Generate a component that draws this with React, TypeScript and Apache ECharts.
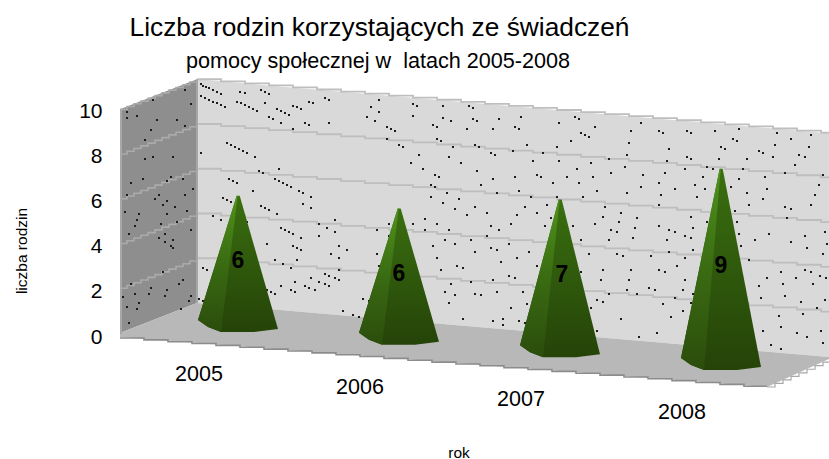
import React, { useEffect, useRef } from "react";
import * as echarts from "echarts";

const categories = ["2005", "2006", "2007", "2008"];
const familyCounts = [6, 6, 7, 9];
const yTicks = [0, 2, 4, 6, 8, 10];
const titleText = "Liczba rodzin korzystających ze świadczeń";
const subtitleText = "pomocy społecznej w  latach 2005-2008";
const yName = "liczba rodzin";
const xName = "rok";

// wall texture: [crop x, crop y, crop pairs at 3x]
const leftWallSpeckle: number[] = [254,60,158,89,272,101,80,125,110,137,80,143,170,149,230,149,254,167,152,179,134,209,134,267,158,261,218,261,92,338,128,326,212,320,200,332,248,326,278,356,80,374,176,374,164,386,254,374,200,392,188,404,224,410,260,422,74,427,116,433,200,433,110,451,104,468,182,462,230,457,86,492,272,480,194,492,176,504,218,510,194,516,212,528,218,534,188,605,248,629,236,641,92,641,152,653,200,659,104,671,146,671,194,677,272,677,68,682,266,694,116,700,80,712,110,718,242,718,86,760];
const backWallSpeckleA: number[] = [302,43,310,47,318,51,326,55,338,60,350,65,362,71,420,66,434,70,482,59,494,66,506,71,302,78,314,84,326,90,338,96,350,100,362,106,374,112,410,95,422,100,434,105,446,111,458,117,470,123,494,100,506,142,518,147,530,118,542,123,554,129,566,135,542,160,578,107,590,112,602,118,626,96,638,100,674,84,686,90,614,159,626,165,578,178,686,159,836,89,812,112,836,125,800,142,824,154,860,172,872,178,884,183,860,208,896,226,302,249,380,219,392,225,404,231,416,236,428,242,440,248,464,260,476,302,488,308,536,296,524,326,536,332,548,338,560,344,572,350,596,362,608,368,632,380,386,326,398,332,410,338,458,362,368,385,380,391,392,397,608,403,632,415,482,409,494,415,506,421,530,433,338,439,362,451,440,457,656,463,680,474,704,451,704,487,656,498,542,475,554,481,566,487,578,492,602,504,500,522,578,528,590,533,602,539,716,528,740,540,692,552,716,564,524,570,548,581,590,570,572,593,716,600,674,611,686,617,704,623,716,629,632,623,656,635,674,641,686,647,584,635,542,647,572,659,584,665,614,647,626,653,644,659,500,659,512,665,524,671,308,593,320,599,296,688,308,694,728,723,758,735,776,741,788,688,806,694,830,480,866,463,866,498,830,552,836,587];
const backWallSpeckleB: number[] = [53,56,65,62,143,62,221,62,233,68,53,92,143,98,167,109,233,103,245,109,311,103,113,121,125,127,215,133,293,133,125,163,137,169,11,181,23,187,173,187,239,181,251,187,287,204,299,210,71,210,161,216,47,234,197,234,83,252,245,258,119,270,131,276,293,282,107,299,119,305,257,299,155,323,305,323];
const backWallSpeckleC: number[] = [107,5,143,23,191,11,179,41,239,35,215,59,275,53,89,71,53,88,125,88,287,94,89,105,161,105,311,105,275,124,149,136,227,135,179,147,113,153,287,159,305,165,239,171,125,189,317,200,185,212,203,218,137,224,293,254,167,266,227,260,149,290,305,290,239,296,179,301,257,301,161,325,203,372,293,378,323,372];
const backWallSpeckleD: number[] = [62,82,224,82,236,88,176,100,44,112,56,118,284,112,242,130,254,136,266,142,212,154,80,166,170,172,38,184,128,190,98,214,176,214,272,218,230,236,44,260,110,254,122,260,200,260,278,260,158,278,236,278,56,302,290,302,92,320,170,320,248,320,74,350,140,344,110,368,50,374,152,384,32,403,134,409,218,409,242,451,26,463,86,487,266,492,50,504,110,528,242,546,26,557,44,563,68,605,80,641,32,653,272,653,56,693,8,705,74,699,290,723,422,100,392,124,476,124,488,130,560,124,572,130,644,124,716,118,830,130,872,148,932,136,386,160,506,178,662,172,674,178,698,148,710,154,824,166,926,172,776,184,788,190,380,196,326,208,560,202,572,208,500,212,656,208,740,208,818,200,896,196,914,202,374,230,332,248,554,236,620,230,638,238,728,236,884,224,428,254,494,248,608,260,716,266,794,260,854,248,968,254,476,278,422,290,584,284,524,296,614,296,692,290,956,284,800,296,380,308,482,314,590,320,740,308,944,314,788,326,476,344,746,344,932,344,314,350,362,368,854,350,872,356,704,362,308,380,410,385,572,380,860,385,356,397,284,403,620,397,710,397,404,415,476,409,578,415,332,421,350,427,506,421,524,427,716,433,806,433,974,427,914,439,398,445,326,451,500,451,554,439,572,445,764,451,872,457,722,468,920,474,980,463,506,487,578,480,350,492,368,498,452,498,554,504,746,510,968,492,530,527,308,540,392,540,476,540,494,546,914,540,932,546,842,546,800,563,888,563,960,557,978,563,302,569,386,569,554,569,848,581,938,581,776,587,446,593,464,599,380,599,548,600,326,611,410,611,578,611,524,623,782,623,854,617,290,629,308,635,488,641,572,640,902,635,974,629,950,653,548,663,908,671,836,677,512,682,362,688,842,711,788,723,890,729,962,723,470,729,416,741,920,741,968,759,812,765,842,777];

const FONT = '"Liberation Sans", Arial, sans-serif';

function stepped(a: number[], b: number[], step = 24): number[][] {
  const pts: number[][] = [];
  const slope = (b[1] - a[1]) / (b[0] - a[0]);
  const dir = b[0] >= a[0] ? 1 : -1;
  let x = a[0];
  while ((b[0] - x) * dir > 0) {
    const nx = (b[0] - x) * dir > step ? x + step * dir : b[0];
    const y = a[1] + slope * (x - a[0]);
    pts.push([x, y], [nx, y]);
    x = nx;
  }
  return pts;
}

function specks(list: number[], ox: number, oy: number) {
  const out: any[] = [];
  for (let i = 0; i < list.length; i += 2) {
    out.push({
      type: "rect",
      shape: { x: Math.round(list[i] / 3 + ox - 1), y: Math.round(list[i + 1] / 3 + oy - 1), width: 2, height: 2 },
      style: { fill: "#1c1c1c" },
      silent: true,
    });
  }
  return out;
}

function renderFrame(_: any, api: any) {
  const unit = api.size([0, 1])[1] * 0.99;
  const fl: number[] = [120, 333];
  const bl: number[] = [197, 303];
  const br: number[] = [829, 357];
  const up = (p: number[], v: number) => [p[0], p[1] - v * unit];
  const top = 10;
  const kids: any[] = [];
  kids.push({ type: "polygon", shape: { points: [up(bl, top), up(br, top), br, bl] }, style: { fill: "#d9d9d9" } });
  kids.push({ type: "polygon", shape: { points: [up(fl, top), up(bl, top), bl, fl] }, style: { fill: "#8e8e8e" } });
  kids.push({ type: "polygon", shape: { points: [fl, [120, 337], [767, 387], [829, 359], br, bl] }, style: { fill: "#b8b8b8" } });
  kids.push({ type: "polyline", shape: { points: stepped([120, 338], [767, 388], 24) }, style: { stroke: "#8c8c8c", lineWidth: 1.6, fill: "none" } });
  kids.push({ type: "polyline", shape: { points: stepped([767, 387], [829, 359.5], 8) }, style: { stroke: "#a8a8a8", lineWidth: 1.2, fill: "none" } });
  yTicks.forEach((v) => {
    if (v === 0) return;
    kids.push({ type: "polyline", shape: { points: stepped(up(fl, v), up(bl, v), 7) }, style: { stroke: "#ababab", lineWidth: 1.6, fill: "none" } });
    kids.push({ type: "polyline", shape: { points: stepped(up(bl, v), up(br, v), 24) }, style: { stroke: "#bebebe", lineWidth: 1.8, fill: "none" } });
  });
  kids.push({ type: "line", shape: { x1: 197, y1: up(bl, top)[1], x2: 197, y2: 303 }, style: { stroke: "#a6a6a6", lineWidth: 2 } });
  kids.push({ type: "line", shape: { x1: 121, y1: up(fl, top)[1], x2: 121, y2: 334 }, style: { stroke: "#a8a8a8", lineWidth: 2 } });
  kids.push(...specks(leftWallSpeckle, 100, 70));
  kids.push(...specks(backWallSpeckleA, 100, 70));
  kids.push(...specks(backWallSpeckleB, 395, 85));
  kids.push(...specks(backWallSpeckleC, 395, 195));
  kids.push(...specks(backWallSpeckleD, 500, 90));
  return { type: "group", children: kids };
}

function grad(stops: string[]) {
  return new echarts.graphic.LinearGradient(
    0,
    0,
    0,
    1,
    stops.map((color, k) => ({ offset: k / (stops.length - 1), color }))
  );
}

function renderPyramid(params: any, api: any) {
  const i = api.value(0);
  const v = api.value(1);
  const [cx, zeroY] = api.coord([i, 0]);
  const cy = zeroY - 10 + 0.0787 * (cx - 238);
  const h = api.size([0, v])[1] * 0.96;
  const apexY = cy - h;
  const L = [cx - 40, cy - 6];
  const FL = [cx - 17, cy + 6];
  const FR = [cx + 16, cy + 6];
  const R = [cx + 40, cy + 3];
  const ax = cx + 0.2;
  const kids: any[] = [
    { type: "polygon", shape: { points: [[ax - 1.5, apexY], [ax + 1.5, apexY], R, FR, FL, [cx - 30, cy + 1], L] }, style: { fill: grad(["#3a6f10", "#2f590c", "#254308"]) } },
    { type: "polygon", shape: { points: [[ax - 1.5, apexY], [ax - 0.5, apexY], FL, [cx - 30, cy + 1], L] }, style: { fill: grad(["#4f931c", "#3a6b12", "#2b4d0c"]) } },
    {
      type: "text",
      style: { text: String(v), x: cx + (i === 2 ? 2 : 0), y: cy - h / 2 - 1, textAlign: "center", textVerticalAlign: "middle", font: `bold 23px ${FONT}`, fill: "#000" },
    },
    {
      type: "text",
      style: { text: categories[i], x: cx - 39, y: cy + 48, textAlign: "center", textVerticalAlign: "middle", font: `21.5px ${FONT}`, fill: "#000" },
    },
  ];
  return { type: "group", children: kids };
}

export default function App() {
  const ref = useRef<HTMLDivElement>(null);
  useEffect(() => {
    document.body.style.margin = "0";
    const chart = echarts.init(ref.current!, null, { renderer: "svg" });
    chart.setOption({
      animation: false,
      backgroundColor: "#fff",
      title: [
        { text: titleText, left: 374.5, top: 9, textAlign: "center", textStyle: { fontFamily: FONT, fontSize: 26.3, fontWeight: "normal", color: "#000" } },
        { text: subtitleText, left: 373, top: 44, textAlign: "center", textStyle: { fontFamily: FONT, fontSize: 21.6, fontWeight: "normal", color: "#000" } },
      ],
      grid: { left: 157.5, width: 644, top: 110, height: 226 },
      xAxis: { type: "category", data: categories, axisLabel: { show: false }, axisLine: { show: false }, axisTick: { show: false }, splitLine: { show: false } },
      yAxis: {
        type: "value",
        min: 0,
        max: 10,
        interval: 2,
        axisLine: { show: false },
        axisTick: { show: false },
        splitLine: { show: false },
        axisLabel: { margin: 55, fontFamily: FONT, fontSize: 21, color: "#000" },
      },
      graphic: [
        { type: "text", x: 21, y: 251, rotation: Math.PI / 2, style: { text: yName, textAlign: "center", textVerticalAlign: "middle", font: `15.5px ${FONT}`, fill: "#000" } },
        { type: "text", x: 459, y: 452, style: { text: xName, textAlign: "center", textVerticalAlign: "middle", font: `15.5px ${FONT}`, fill: "#000" } },
      ],
      series: [
        { type: "custom", silent: true, z: 1, renderItem: renderFrame, data: [[0, 0]], encode: { x: 0, y: 1 } },
        { type: "custom", silent: true, z: 2, renderItem: renderPyramid, data: familyCounts.map((v, i) => [i, v]), encode: { x: 0, y: 1 } },
      ],
    });
    return () => chart.dispose();
  }, []);
  return <div ref={ref} style={{ width: 829, height: 459 }} />;
}
